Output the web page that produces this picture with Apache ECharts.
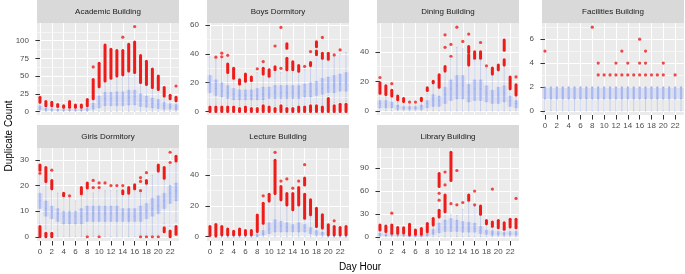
<!DOCTYPE html>
<html>
<head>
<meta charset="utf-8">
<script src="https://cdn.jsdelivr.net/npm/echarts@6/dist/echarts.min.js"></script>
<style>
  html, body { margin: 0; padding: 0; background: #fff; }
  #chart { width: 685px; height: 274px; }
</style>
</head>
<body>
<div id="chart"></div>
<script>
// categories
const hours = ['0','1','2','3','4','5','6','7','8','9','10','11','12','13','14','15','16','17','18','19','20','21','22','23'];
const hourTicks = [0, 2, 4, 6, 8, 10, 12, 14, 16, 18, 20, 22];

// Academic Building
const acadLo  = [0,0,0,0,0,0,0,0,0,0,0,0,0,0,0,0,0,0,0,0,0,0,0,0];
const acadQ1  = [2,1,1,1,1,1,1,1,1,3,5,8,8,8,8,9,9,7,6,5,4,3,3,2];
const acadMed = [5,3,3,2,2,2,2,2,3,7,12,18,18,19,19,20,21,16,14,12,10,8,7,6];
const acadQ3  = [8,5,4,3,3,3,3,3,5,12,22,27,27,28,28,30,30,25,22,19,17,13,11,10];
const acadHi  = [12,7,7,6,5,5,5,5,7,17,33,42,45,49,50,55,54,40,37,33,30,21,17,14];
const acadStacks = [[0,13,20],[1,8,14],[2,8,13],[3,7,10],[4,6,8],[5,6,14],[6,6,9],[7,6,9],[8,8,17],[9,18,45],[10,35,68],[11,43,94],[12,47,88],[13,50,86],[14,52,86],[15,57,95],[16,55,98],[17,41,79],[18,38,71],[19,34,60],[20,31,50],[21,22,34],[22,18,23],[23,15,20]];
const acadDots = [[9,63],[14,105],[16,120],[23,36]];
const acadTicks = [0,25,50,75,100];
const acadMinor = [12.5,37.5,62.5,87.5,112.5];

// Boys Dormitory
const boysLo  = [5,5,5,5,5,4,5,4,4,6,5,4,6,4,4,5,5,6,6,5,11,6,7,7];
const boysQ1  = [13,11,10,9,8,8,8,8,8,8,9,9,9,9,9,9,10,10,11,12,13,13,14,14];
const boysMed = [19,16,14,13,12,11,11,11,11,12,12,13,13,13,13,13,14,14,15,16,17,18,19,20];
const boysQ3  = [25,22,20,18,16,15,15,15,16,17,17,18,18,18,18,18,19,20,21,23,24,25,26,27];
const boysHi  = [38,36,36,26,22,18,20,20,27,25,23,27,27,28,27,27,29,31,37,36,35,38,40,41];
const boysStacks = [[3,27,33],[4,23,30],[5,19,22],[6,21,26],[7,21.5,24],[9,26,30],[10,24.5,29],[11,29,31],[13,44,47],[13,29,37],[14,29,34.5],[15,28,32],[17,32,34],[18,45,48.5],[18,39.5,42],[19,37,40.5],[20,36.3,40.5],
  [0,0,3],[1,0,3],[2,0,3],[3,0,3],[4,0,3],[5,0,2],[6,0,3],[7,0,2],[8,0,2],[9,0,4],[10,0,3],[11,0,2],[12,0,4],[13,0,2],[14,0,2],[15,0,3],[16,0,3],[17,0,4],[18,0,4],[19,0,3],[20,0,9],[21,0,4],[22,0,5],[23,0,5]];
const boysDots = [[1,37.7],[2,38],[2,40.5],[3,39],[8,29.6],[9,34.7],[11,45.5],[12,58.4],[12,30],[16,31.3],[17,41.6],[19,51.5],[21,39.3],[22,42.8]];
const boysTicks = [0,20,40,60];
const boysMinor = [10,30,50];

// Dining Building
const dinLo  = [0,0,0,0,0,0,0,0,0,0,0,0,0,0,0,0,0,0,0,0,0,0,0,0];
const dinQ1  = [2,2,2,1,1,1,1,1,2,3,3,5,7,8,8,6,7,7,6,5,5,6,3,2];
const dinMed = [5,4,4,3,2,2,2,3,5,8,7,11,15,17,17,13,15,15,12,10,11,12,7,5];
const dinQ3  = [7,7,6,4,3,3,3,4,7,11,10,16,21,24,24,18,21,21,17,14,16,17,10,7];
const dinHi  = [11,10,9,6,5,5,5,6,12,18,15,26,35,43,42,30,34,34,29,24,27,30,14,10];
const dinStacks = [[0,12,19],[1,11,17],[2,10,14],[3,7.5,10],[4,6.3,8.4],[7,7,8.5],[8,13.8,15.6],[9,19,20],[10,16,24.5],[11,27,30],[15,39.5,43.6],[15,31,38],[16,35.7,40],[17,35.7,40],[19,25,29],[20,27.8,31],[21,41,48],[21,31,34.6],[22,15,23],[23,10.8,17.6]];
const dinDots = [[0,22.6],[2,18.4],[5,6],[6,6],[11,43],[11,51.5],[12,37],[12,45],[13,56.7],[14,47],[15,52],[17,46.3],[18,30.5],[23,23]];
const dinTicks = [0,20,40];
const dinMinor = [10,30,50];

// Facilities Building
const facLo  = [0,0,0,0,0,0,0,0,0,0,0,0,0,0,0,0,0,0,0,0,0,0,0,0];
const facQ1  = [1,1,1,1,1,1,1,1,1,1,1,1,1,1,1,1,1,1,1,1,1,1,1,1];
const facMed = [1,1,1,1,1,1,1,1,1,1,1,1,1,1,1,1,1,1,1,1,1,1,1,1];
const facQ3  = [2,2,2,2,2,2,2,2,2,2,2,2,2,2,2,2,2,2,2,2,2,2,2,2];
const facHi  = [2,2,2,2,2,2,2,2,2,2,2,2,2,2,2,2,2,2,2,2,2,2,2,2];
const facStacks = [];
const facDots = [[0,5],[8,7],[9,4],[9,3],[10,3],[11,3],[12,4],[12,3],[13,5],[13,3],[14,4],[14,3],[15,3],[16,6],[16,4],[16,3],[17,5],[17,4],[17,3],[18,3],[19,3],[20,4],[20,3],[22,3]];
const facTicks = [0,2,4,6];
const facMinor = [1,3,5,7];

// Girls Dormitory
const girlsLo  = [5,3,3,0,0,0,0,0,1,0,1,0,0,0,0,0,0,1,1,1,1,5,4,6];
const girlsQ1  = [11,8,7,6,5,5,5,5,6,6,6,6,6,6,6,6,6,6,7,8,9,11,13,14];
const girlsMed = [14,11,10,9,8,8,8,8,9,9,9,9,9,9,9,8,8,9,10,11,12,14,17,18];
const girlsQ3  = [17,14,12,11,10,10,10,11,12,12,12,12,12,12,11,11,11,12,13,15,16,17,20,21];
const girlsHi  = [24,21,18,17,15,15,14,16,18,17,18,18,18,18,16,16,18,17,20,24,25,22,28,28.5];
const girlsStacks = [[0,26,28],[0,0,4],[1,21.6,27],[1,0,1.4],[2,18.7,22],[2,0,1.4],[4,16,17],[7,16.8,19.2],[8,19,21],[14,16.8,18],[15,17,19.2],[16,18.7,20.3],[18,20.9,22],[20,25.7,28],[21,22.8,27],[21,2,3.5],[22,0,2.3],[23,29.6,31.4],[23,1,4]];
const girlsDots = [[0,24.8],[2,26],[5,16],[8,0],[9,19.2],[9,22],[10,19.2],[10,21],[10,0],[11,21],[12,20],[13,20],[14,20],[17,18],[17,21.6],[17,23.1],[17,0],[18,25],[18,0],[19,0],[20,0],[22,29],[22,33]];
const girlsTicks = [0,10,20,30];
const girlsMinor = [5,15,25];

// Lecture Building
const lecLo  = [0,0,0,0,0,0,0,0,0,0,0,0,0,0,0,0,0,0,0,0,0,0,0,0];
const lecQ1  = [0,0,0,0,0,0,0,0,0,1,2,3,3,3,3,3,3,2,1,1,0,0,0,0];
const lecMed = [0,0,0,0,0,0,0,0,1,2,5,7,7,6,6,6,6,4,3,2,0,0,0,0];
const lecQ3  = [0,0,0,0,0,0,0,0,2,4,9,11,10,9,8,9,8,6,4,3,0,0,0,0];
const lecHi  = [0,0,0,0,0,0,0,0,3,8,22,27,23,20,17,20,11,13,6,5,0,0,0,0];
const lecStacks = [[0,1,6.7],[1,0.5,8],[2,1.3,6.7],[3,1.3,5],[4,1.3,3.5],[5,1.3,5],[6,1.3,4],[7,1.3,4],[8,3.4,14],[9,8.8,21.7],[10,23.2,27.5],[11,28,49.5],[12,24,32.5],[13,20.6,28],[14,17.4,28],[15,20.6,31.8],[16,12,27.5],[16,33.5,38],[17,14.2,23.9],[18,6.7,18.5],[19,5.6,14.2],[20,1.3,7.7],[21,1.3,6.7],[22,1.3,6],[23,1.3,6.7]];
const lecDots = [[9,26.5],[11,54.6],[12,36],[13,37.4],[14,31.4],[15,36],[16,46.6],[21,10.3]];
const lecTicks = [0,20,40];
const lecMinor = [10,30,50];

// Library Building
const libLo  = [0,0,0,0,0,0,0,0,0,0,0,0,0,0,0,0,0,0,0,0,0,0,0,0];
const libQ1  = [1,1,1,1,1,0,0,0,1,3,5,7,7,7,6,6,6,4,3,2,2,2,2,2];
const libMed = [3,2,2,2,2,1,1,1,3,6,10,13,14,13,12,11,11,8,6,5,4,4,4,4];
const libQ3  = [5,4,4,3,3,2,2,2,5,10,18,22,24,22,20,19,18,14,9,8,7,6,7,7];
const libHi  = [8,6,4,4,4,2,3,3,6,15,25,32,29,28,36,45,40,28,16,13,11,9,12,11];
const libStacks = [[0,9,15.6],[1,7,14.3],[2,4.8,15.6],[3,4.8,12.2],[4,5,12],[5,2.6,16.5],[6,3.5,9],[7,3.5,11],[8,6.5,17.4],[9,15.6,24],[10,26,35],[10,66,83],[11,33,55],[12,74,111],[15,48,55],[17,29.5,40.4],[18,17,21.5],[19,14,19.5],[20,11.8,21.5],[21,9.9,18.6],[22,12.9,22.9],[23,12,23]];
const libDots = [[2,31],[10,48],[10,57],[11,68],[11,85],[12,43.5],[13,87],[13,42],[14,45],[16,60],[16,42],[19,62.6],[23,50.4]];
const libTicks = [0,30,60,90];
const libMinor = [15,45,75,105];

const FONT = 'Liberation Sans, Arial, sans-serif';
const RED = '#EE1B1B';
const PANEL_W = 142;

const panels = [
  { title: 'Academic Building', lo: acadLo, q1: acadQ1, med: acadMed, q3: acadQ3, hi: acadHi, stacks: acadStacks, dots: acadDots, ticks: acadTicks, minor: acadMinor, min: -5, max: 125, left: 37, top: 23, height: 92, xLabels: false },
  { title: 'Boys Dormitory', lo: boysLo, q1: boysQ1, med: boysMed, q3: boysQ3, hi: boysHi, stacks: boysStacks, dots: boysDots, ticks: boysTicks, minor: boysMinor, min: -2.5, max: 61.5, left: 207, top: 23, height: 92, xLabels: false },
  { title: 'Dining Building', lo: dinLo, q1: dinQ1, med: dinMed, q3: dinQ3, hi: dinHi, stacks: dinStacks, dots: dinDots, ticks: dinTicks, minor: dinMinor, min: -2.8, max: 59.5, left: 377, top: 23, height: 92, xLabels: false },
  { title: 'Facilities Building', lo: facLo, q1: facQ1, med: facMed, q3: facQ3, hi: facHi, stacks: facStacks, dots: facDots, ticks: facTicks, minor: facMinor, min: -0.35, max: 7.35, left: 542, top: 23, height: 92, xLabels: true },
  { title: 'Girls Dormitory', lo: girlsLo, q1: girlsQ1, med: girlsMed, q3: girlsQ3, hi: girlsHi, stacks: girlsStacks, dots: girlsDots, ticks: girlsTicks, minor: girlsMinor, min: -1.65, max: 34.65, left: 37, top: 148, height: 93, xLabels: true },
  { title: 'Lecture Building', lo: lecLo, q1: lecQ1, med: lecMed, q3: lecQ3, hi: lecHi, stacks: lecStacks, dots: lecDots, ticks: lecTicks, minor: lecMinor, min: -2.75, max: 57.4, left: 207, top: 148, height: 93, xLabels: true },
  { title: 'Library Building', lo: libLo, q1: libQ1, med: libMed, q3: libQ3, hi: libHi, stacks: libStacks, dots: libDots, ticks: libTicks, minor: libMinor, min: -5.5, max: 116.5, left: 377, top: 148, height: 93, xLabels: true }
];

const grid = [], xAxis = [], yAxis = [], series = [], graphic = [];
const tickLine = { color: '#333333', width: 1 };
const labelStyle = { fontSize: 8, color: '#4D4D4D', fontFamily: FONT };

panels.forEach((p, i) => {
  grid.push({
    left: p.left, top: p.top, width: PANEL_W, height: p.height,
    show: true, backgroundColor: '#EBEBEB', borderWidth: 0
  });

  // two hidden category axes (separate boxplot groups so they do not shift each other)
  const cat = { type: 'category', data: hours, gridIndex: i, show: false, boundaryGap: true };
  xAxis.push(Object.assign({}, cat), Object.assign({}, cat), {
    type: 'value', gridIndex: i, min: -0.5, max: 23.5, position: 'bottom',
    axisLine: { show: false },
    axisTick: { show: p.xLabels, customValues: hourTicks, length: 4.5, lineStyle: tickLine },
    axisLabel: Object.assign({ show: p.xLabels, customValues: hourTicks, margin: 7, formatter: v => String(v) }, labelStyle),
    splitLine: { show: true, lineStyle: { color: '#FFFFFF', width: 1.1 } }
  });

  yAxis.push({
    type: 'value', gridIndex: i, min: p.min, max: p.max, position: 'left',
    axisLine: { show: false },
    axisTick: { show: true, customValues: p.ticks, length: 4.5, lineStyle: tickLine },
    axisLabel: Object.assign({ customValues: p.ticks, margin: 8 }, labelStyle),
    splitLine: { show: true, lineStyle: { color: '#FFFFFF', width: 1.1 } }
  }, {
    type: 'value', gridIndex: i, min: p.min, max: p.max, position: 'left',
    axisLine: { show: false },
    axisTick: { show: false, customValues: p.minor },
    axisLabel: { show: false, customValues: p.minor },
    splitLine: { show: true, lineStyle: { color: '#FFFFFF', width: 0.55 } }
  });

  const stats = hours.map((h, k) => [p.lo[k], p.q1[k], p.med[k], p.q3[k], p.hi[k]]);

  // wide pale boxes
  series.push({
    type: 'boxplot', xAxisIndex: 3 * i, yAxisIndex: 2 * i, data: stats,
    boxWidth: ['100%', '100%'], silent: true, z: 2,
    itemStyle: { color: 'rgba(175,190,255,0.26)', borderWidth: 0 }
  });
  // thin whiskers + narrow darker box
  series.push({
    type: 'boxplot', xAxisIndex: 3 * i + 1, yAxisIndex: 2 * i, data: stats,
    boxWidth: [1.5, 1.5], silent: true, z: 3,
    itemStyle: { color: 'rgba(125,150,240,0.45)', borderColor: 'rgba(115,142,236,0.5)', borderWidth: 0.6 }
  });
  // dense runs of outliers
  series.push({
    type: 'custom', xAxisIndex: 3 * i, yAxisIndex: 2 * i, data: p.stacks, z: 4, silent: true,
    encode: { x: 0, y: [1, 2] },
    renderItem: (params, api) => {
      const top = api.coord([api.value(0), api.value(2)]);
      const bot = api.coord([api.value(0), api.value(1)]);
      return {
        type: 'rect',
        shape: { x: top[0] - 1.5, y: top[1] - 1.5, width: 3, height: bot[1] - top[1] + 3, r: 1.5 },
        style: { fill: RED }
      };
    }
  });
  // single outliers
  series.push({
    type: 'scatter', xAxisIndex: 3 * i, yAxisIndex: 2 * i, data: p.dots, z: 5, silent: true,
    symbolSize: 3.2, itemStyle: { color: RED }
  });

  // facet strip
  graphic.push({
    type: 'rect', silent: true,
    shape: { x: p.left, y: p.top - 23, width: PANEL_W, height: 23 },
    style: { fill: '#D9D9D9' }
  }, {
    type: 'text', silent: true, x: p.left + PANEL_W / 2, y: p.top - 11.5,
    style: { text: p.title, fill: '#1A1A1A', font: '8px ' + FONT, align: 'center', verticalAlign: 'middle', textAlign: 'center', textVerticalAlign: 'middle' }
  });
});

graphic.push({
  type: 'text', silent: true, x: 9, y: 136, rotation: Math.PI / 2,
  style: { text: 'Duplicate Count', fill: '#000', font: '10px ' + FONT, align: 'center', verticalAlign: 'middle', textAlign: 'center', textVerticalAlign: 'middle' }
}, {
  type: 'text', silent: true, x: 360, y: 267,
  style: { text: 'Day Hour', fill: '#000', font: '10px ' + FONT, align: 'center', verticalAlign: 'middle', textAlign: 'center', textVerticalAlign: 'middle' }
});

const chart = echarts.init(document.getElementById('chart'), null, { renderer: 'canvas' });
chart.setOption({
  animation: false,
  backgroundColor: '#FFFFFF',
  grid, xAxis, yAxis, series, graphic
});
</script>
</body>
</html>
